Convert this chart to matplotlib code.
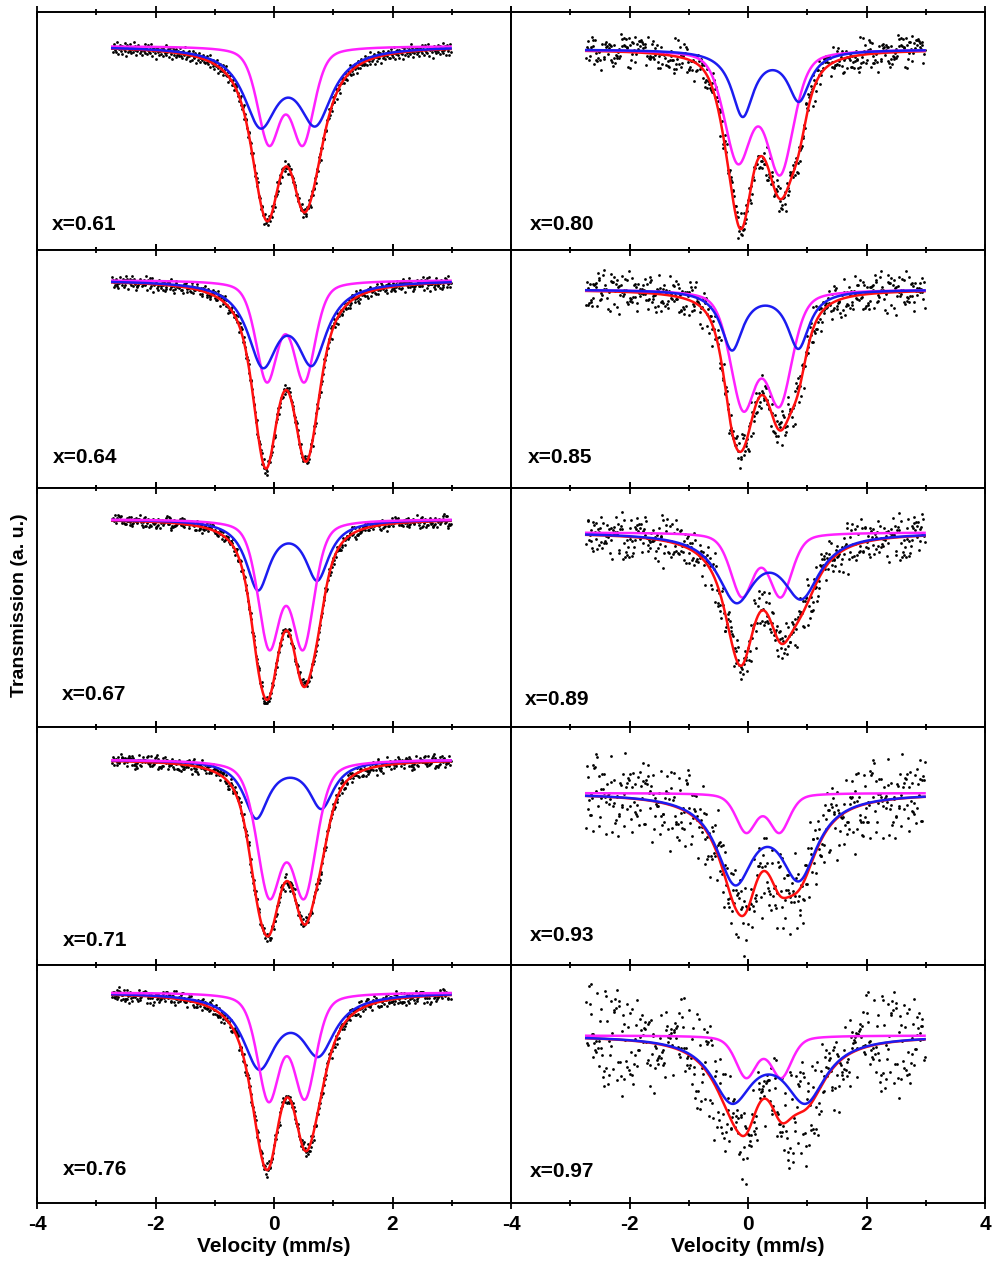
import numpy as np
import matplotlib
matplotlib.use("Agg")
import matplotlib.pyplot as plt
from matplotlib.ticker import MultipleLocator

# Mossbauer spectra, left column x=0.61..0.76, right column x=0.80..0.97
compositions = ["0.61", "0.64", "0.67", "0.71", "0.76",
                "0.80", "0.85", "0.89", "0.93", "0.97"]

# off-resonance level, read as distance below panel top (fraction of panel height)
baseline = [0.143, 0.126, 0.129, 0.138, 0.116,
            0.157, 0.165, 0.185, 0.279, 0.297]

# magenta doublet: line positions (mm/s), linewidth (mm/s), line depths
mag_pos = [(-0.085, 0.485), (-0.12, 0.51), (-0.08, 0.49), (-0.08, 0.51), (-0.09, 0.52),
           (-0.17, 0.54), (-0.08, 0.53), (-0.10, 0.55), (-0.03, 0.53), (-0.03, 0.56)]
mag_width = [0.46, 0.44, 0.45, 0.50, 0.45,
             0.55, 0.52, 0.46, 0.41, 0.42]
mag_depth = [(0.394, 0.394), (0.411, 0.411), (0.519, 0.519), (0.546, 0.546), (0.439, 0.428),
             (0.453, 0.503), (0.478, 0.458), (0.261, 0.261), (0.160, 0.160), (0.171, 0.171)]

# blue doublet
blue_pos = [(-0.23, 0.70), (-0.19, 0.64), (-0.27, 0.73), (-0.30, 0.80), (-0.25, 0.75),
            (-0.09, 0.86), (-0.27, 0.85), (-0.20, 0.90), (-0.22, 0.86), (-0.27, 0.97)]
blue_width = [0.69, 0.62, 0.49, 0.51, 0.68,
              0.45, 0.45, 0.76, 0.76, 0.84]
blue_depth = [(0.31, 0.30), (0.33, 0.32), (0.286, 0.243), (0.239, 0.196), (0.30, 0.24),
              (0.273, 0.206), (0.247, 0.24), (0.27, 0.253), (0.351, 0.332), (0.26, 0.26)]

# scatter of the measured points around the fit (fraction of panel height)
noise_level = [0.013, 0.013, 0.012, 0.014, 0.014,
               0.032, 0.038, 0.045, 0.078, 0.095]

# fixed residual pattern used for the data points
resid = [0.3, -1.2, 0.8, 1.5, -0.4, -0.9, 0.1, 2.1, -1.7, 0.6, -0.2, 1.1, -0.7, -1.5, 0.9, 0.4,
         -0.1, 1.8, -0.6, -2.2, 0.7, 1.3, -1.0, 0.2, -0.5, 1.6, -1.3, 0.0, 0.9, -0.8, 2.4, -0.3,
         1.2, -1.9, 0.5, -0.6, 1.4, 0.1, -1.1, 0.8, -0.4, -1.6, 1.0, 0.3, -0.2, 1.9, -0.9, 0.6,
         -1.4, 0.2, 1.7, -0.5, -1.0, 0.4, 2.0, -1.8, 0.7, -0.1, 1.1, -0.7, -2.5, 0.5, 1.3, -0.3,
         0.8, -1.2, 0.0, 1.5, -0.8, 0.3, -1.5, 1.0, 0.6, -0.4, 2.2, -1.1, -0.2, 0.9, -1.7, 0.4,
         1.2, -0.6, 0.1, -2.0, 1.6, -0.9, 0.7, 0.2, -1.3, 1.4, -0.5, 0.8, -0.1, -1.0, 1.8, -0.7,
         0.5, -1.4, 1.1, 0.0, -0.3, 2.3, -1.6, 0.6, -0.8, 0.9, -0.2, 1.3, -1.9, 0.4, 0.1, -1.2,
         1.7, -0.4, -0.6, 1.0, -2.1, 0.7, 0.3, -0.9, 1.5, -0.1, -1.3, 0.8, 0.2, -0.5, 1.2, -1.0]

v_min, v_max, n_chan = -2.73, 2.98, 470

# Lorentzian fraction of the line shape (rest Gaussian)
mag_eta, blue_eta = 0.4, 1.0

label_pos = [(0.031, 0.084), (0.033, 0.105), (0.052, 0.113), (0.054, 0.080), (0.054, 0.118),
             (0.040, 0.084), (0.036, 0.105), (0.030, 0.090), (0.040, 0.100), (0.040, 0.110)]


def doublet(v, pos, width, depth, eta):
    out = np.zeros_like(v)
    for c, d in zip(pos, depth):
        x = 2 * (v - c) / width
        lor = 1 / (1 + x ** 2)
        gau = np.exp(-np.log(2) * x ** 2)
        out += d * (eta * lor + (1 - eta) * gau)
    return out


plt.rcParams["font.family"] = ["Liberation Sans", "DejaVu Sans"]
plt.rcParams["axes.unicode_minus"] = False

fig = plt.figure(figsize=(9.92, 12.64), dpi=100)
W, H = 992.0, 1264.0
top_px, bot_px = 12.0, 1203.0
row_h = (bot_px - top_px) / 5
cols = [(37.0, 511.0), (511.0, 985.0)]

v = np.linspace(v_min, v_max, n_chan)
r = np.array(resid)

for k, comp in enumerate(compositions):
    col, row = k // 5, k % 5
    x0, x1 = cols[col]
    y_top = top_px + row * row_h
    ax = fig.add_axes([x0 / W, 1 - (y_top + row_h) / H, (x1 - x0) / W, row_h / H])

    base = 1 - baseline[k]
    dm = doublet(v, mag_pos[k], mag_width[k], mag_depth[k], mag_eta)
    db = doublet(v, blue_pos[k], blue_width[k], blue_depth[k], blue_eta)
    mag = base - dm
    blu = base - db
    tot = base - dm - db
    step = 2 * k + 1
    idx = (np.arange(n_chan) * step + 17 * k) % len(r)
    data = tot + noise_level[k] * r[idx]

    ax.scatter(v, data, s=4, c="black", linewidths=0, zorder=2)
    ax.plot(v, tot, color="#ff1010", lw=1.8, zorder=3)
    if col == 0 and row >= 2:
        zb, zm = 4, 5
    else:
        zb, zm = 5, 4
    ax.plot(v, mag, color="#ff20ff", lw=1.8, zorder=zm)
    ax.plot(v, blu, color="#1c1cf0", lw=1.8, zorder=zb)

    ax.set_xlim(-4, 4)
    ax.set_ylim(0, 1)
    ax.set_yticks([])
    ax.xaxis.set_major_locator(MultipleLocator(2))
    ax.xaxis.set_minor_locator(MultipleLocator(1))
    ax.tick_params(axis="x", which="both", direction="inout", top=True, bottom=True,
                   width=1.3, labelbottom=False)
    ax.tick_params(axis="x", which="major", length=8)
    ax.tick_params(axis="x", which="minor", length=5)
    for s in ax.spines.values():
        s.set_linewidth(1.4)

    lx, ly = label_pos[k]
    ax.text(lx, ly, "x=" + comp, transform=ax.transAxes, fontsize=15,
            fontweight="bold", ha="left", va="baseline")

    if row == 4:
        ax.tick_params(axis="x", labelbottom=True, labelsize=15, pad=5)
        if col == 0:
            ax.set_xticks([-4, -2, 0, 2])
            ax.set_xticks([-3, -1, 1, 3], minor=True)
        for t in ax.get_xticklabels():
            t.set_fontweight("bold")
        ax.set_xlabel("Velocity (mm/s)", fontsize=15, fontweight="bold", labelpad=2)

fig.text(0.02, 0.521, "Transmission (a. u.)", rotation=90, fontsize=14,
         fontweight="bold", ha="center", va="center")

fig.savefig("out.png", dpi=100)
